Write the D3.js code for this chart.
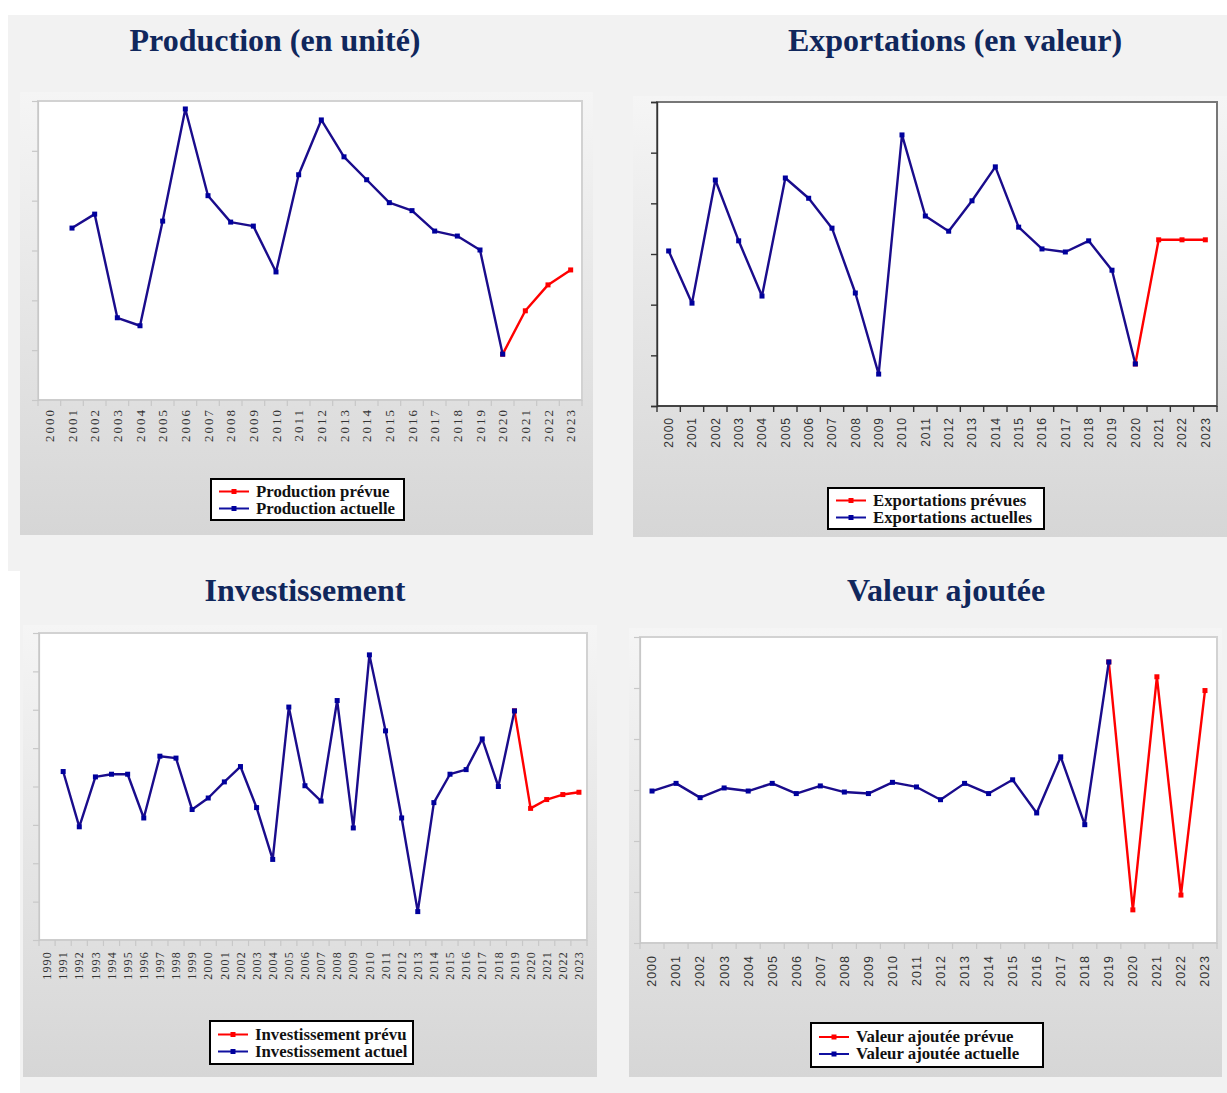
<!DOCTYPE html>
<meta charset="utf-8">
<style>
  body { margin: 0; background: #fff; }
  svg text { font-family: "Liberation Serif", "Times New Roman", serif; }
</style>
<body>
<div id="chart"></div>
<script src="https://d3js.org/d3.v7.min.js"></script>
<script>
// ---- data (arbitrary units, no axis labels in the source) ----
var years2000 = ["2000","2001","2002","2003","2004","2005","2006","2007","2008","2009","2010","2011",
                 "2012","2013","2014","2015","2016","2017","2018","2019","2020","2021","2022","2023"];
var years1990 = ["1990","1991","1992","1993","1994","1995","1996","1997","1998","1999",
                 "2000","2001","2002","2003","2004","2005","2006","2007","2008","2009","2010","2011",
                 "2012","2013","2014","2015","2016","2017","2018","2019","2020","2021","2022","2023"];

var prodActual   = [null,3.45,3.73,1.65,1.49,3.59,5.84,4.10,3.57,3.49,2.57,4.52,5.62,4.88,4.42,3.96,3.80,3.39,3.29,3.01,0.92,null,null,null];
var prodForecast = [null,null,null,null,null,null,null,null,null,null,null,null,null,null,null,null,null,null,null,null,0.92,1.79,2.31,2.61];

var expActual    = [3.06,2.03,4.46,3.26,2.17,4.50,4.10,3.51,2.23,0.63,5.35,3.75,3.45,4.05,4.72,3.53,3.10,3.04,3.26,2.68,0.83,null,null,null];
var expForecast  = [null,null,null,null,null,null,null,null,null,null,null,null,null,null,null,null,null,null,null,null,0.83,3.28,3.28,3.28];

var invActual    = [null,4.39,2.95,4.25,4.32,4.32,3.18,4.79,4.74,3.40,3.70,4.12,4.52,3.45,2.10,6.07,4.02,3.62,6.24,2.92,7.43,5.45,3.18,0.74,3.58,4.32,4.44,5.24,4.00,5.97,null,null,null,null];
var invForecast  = [null,null,null,null,null,null,null,null,null,null,null,null,null,null,null,null,null,null,null,null,null,null,null,null,null,null,null,null,null,5.97,3.43,3.66,3.79,3.85];

var vaActual     = [2.98,3.13,2.85,3.04,2.98,3.13,2.93,3.08,2.96,2.93,3.15,3.06,2.81,3.13,2.93,3.20,2.55,3.65,2.32,5.51,null,null,null,null];
var vaForecast   = [null,null,null,null,null,null,null,null,null,null,null,null,null,null,null,null,null,null,null,5.51,0.65,5.22,0.94,4.95];

var BLUE = "#1a0c8c", BLUE_MK = "#00009c", RED = "#ff0000";
var SERIF = "'Liberation Serif', 'Times New Roman', serif";
var SANS = "'Liberation Sans', Arial, sans-serif";

var svg = d3.select("#chart").append("svg")
  .attr("width", 1227).attr("height", 1093);

var defs = svg.append("defs");
var grad = defs.append("linearGradient").attr("id", "panelGrad")
  .attr("x1", 0).attr("y1", 0).attr("x2", 0).attr("y2", 1);
grad.append("stop").attr("offset", "0%").attr("stop-color", "#f5f5f5");
grad.append("stop").attr("offset", "100%").attr("stop-color", "#d6d6d6");

// page background
svg.append("rect").attr("x", 8).attr("y", 15).attr("width", 1219).attr("height", 556).attr("fill", "#f2f2f2");
svg.append("rect").attr("x", 20).attr("y", 570).attr("width", 1207).attr("height", 523).attr("fill", "#f2f2f2");

function drawPanel(cfg) {
  // title
  svg.append("text")
    .attr("x", cfg.titleX).attr("y", cfg.titleY)
    .attr("text-anchor", "middle")
    .style("font-size", "32px").style("font-weight", "bold")
    .style("fill", "#10275c")
    .text(cfg.title);

  // container
  svg.append("rect")
    .attr("x", cfg.box.x).attr("y", cfg.box.y)
    .attr("width", cfg.box.w).attr("height", cfg.box.h)
    .attr("fill", "url(#panelGrad)");

  var p = cfg.plot;
  svg.append("rect")
    .attr("x", p.l).attr("y", p.t)
    .attr("width", p.r - p.l).attr("height", p.b - p.t)
    .attr("fill", "#fff")
    .attr("stroke", cfg.borderColor).attr("stroke-width", 2);

  var x = d3.scaleBand().domain(cfg.cats).range([p.l, p.r]);
  var y = d3.scaleLinear().domain([0, cfg.yMax]).range([p.b, p.t]);

  // y axis: ticks only, no labels
  var yAxis = svg.append("g")
    .attr("transform", "translate(" + p.l + ",0)")
    .call(d3.axisLeft(y).ticks(cfg.yMax).tickSize(6).tickFormat(""));
  yAxis.selectAll("line, path").attr("stroke", cfg.axisColor).attr("stroke-width", cfg.axisWidth);

  // x axis: ticks at band boundaries, labels centred in bands
  var bounds = cfg.cats.map(function (c) { return x(c); }).concat([p.r]);
  var xg = svg.append("g");
  xg.append("line")
    .attr("x1", p.l).attr("x2", p.r).attr("y1", p.b).attr("y2", p.b)
    .attr("stroke", cfg.axisColor).attr("stroke-width", cfg.axisWidth);
  xg.selectAll(".tk").data(bounds).enter().append("line")
    .attr("x1", function (d) { return d; }).attr("x2", function (d) { return d; })
    .attr("y1", p.b).attr("y2", p.b + 6)
    .attr("stroke", cfg.axisColor).attr("stroke-width", cfg.axisWidth);
  var lf = cfg.labelFont;
  xg.selectAll(".lb").data(cfg.cats).enter().append("text")
    .attr("transform", function (d) {
      return "translate(" + (x(d) + x.bandwidth() / 2 + lf.size * 0.35) + "," + (p.b + lf.gap) + ") rotate(-90)";
    })
    .attr("text-anchor", "end")
    .style("font-family", lf.family)
    .style("font-size", lf.size + "px")
    .style("letter-spacing", lf.spacing + "px")
    .style("fill", "#333")
    .text(function (d) { return d; });

  var cx = function (i) { return x(cfg.cats[i]) + x.bandwidth() / 2; };

  function series(vals, col, mk) {
    var pts = vals.map(function (v, i) { return { i: i, v: v }; })
      .filter(function (d) { return d.v !== null; });
    var line = d3.line().x(function (d) { return cx(d.i); }).y(function (d) { return y(d.v); });
    svg.append("path").datum(pts)
      .attr("d", line).attr("fill", "none")
      .attr("stroke", col).attr("stroke-width", 2.4)
      .attr("stroke-linejoin", "round");
    svg.append("g").selectAll("rect").data(pts).enter().append("rect")
      .attr("x", function (d) { return cx(d.i) - 2.5; })
      .attr("y", function (d) { return y(d.v) - 2.5; })
      .attr("width", 5).attr("height", 5)
      .attr("fill", mk);
  }
  series(cfg.forecast, RED, RED);
  series(cfg.actual, BLUE, BLUE_MK);

  // legend
  var L = cfg.legend;
  var lg = svg.append("g").attr("transform", "translate(" + L.x + "," + L.y + ")");
  lg.append("rect").attr("width", L.w).attr("height", L.h)
    .attr("fill", "#fff").attr("stroke", "#000").attr("stroke-width", 2);
  var items = [{ t: cfg.labels[0], c: RED, m: RED }, { t: cfg.labels[1], c: "#1010a0", m: BLUE_MK }];
  items.forEach(function (it, k) {
    var yy = L.h / 2 - 8 + k * 17;
    lg.append("line").attr("x1", 8).attr("x2", 38).attr("y1", yy).attr("y2", yy)
      .attr("stroke", it.c).attr("stroke-width", 2);
    lg.append("rect").attr("x", 20.5).attr("y", yy - 2.5).attr("width", 5).attr("height", 5).attr("fill", it.m);
    lg.append("text").attr("x", 45).attr("y", yy + 5)
      .style("font-size", "16.8px").style("font-weight", "bold").style("fill", "#111")
      .text(it.t);
  });
}

drawPanel({
  title: "Production (en unité)", titleX: 275, titleY: 51,
  box: { x: 20, y: 92, w: 573, h: 443 },
  plot: { l: 38, t: 101, r: 582, b: 400 },
  cats: years2000, yMax: 6, actual: prodActual, forecast: prodForecast,
  borderColor: "#d2d2d2", axisColor: "#c8c8c8", axisWidth: 1.2,
  labelFont: { family: SERIF, size: 13, spacing: 2, gap: 8 },
  legend: { x: 211, y: 479, w: 193, h: 41 },
  labels: ["Production prévue", "Production actuelle"]
});

drawPanel({
  title: "Exportations (en valeur)", titleX: 955, titleY: 51,
  box: { x: 633, y: 96, w: 594, h: 441 },
  plot: { l: 657, t: 102, r: 1217, b: 406 },
  cats: years2000, yMax: 6, actual: expActual, forecast: expForecast,
  borderColor: "#777", axisColor: "#333", axisWidth: 1.4,
  labelFont: { family: SANS, size: 12, spacing: 1, gap: 11 },
  legend: { x: 828, y: 488, w: 216, h: 41 },
  labels: ["Exportations prévues", "Exportations actuelles"]
});

drawPanel({
  title: "Investissement", titleX: 305, titleY: 601,
  box: { x: 23, y: 625, w: 574, h: 452 },
  plot: { l: 39, t: 633, r: 587, b: 940 },
  cats: years1990, yMax: 8, actual: invActual, forecast: invForecast,
  borderColor: "#d2d2d2", axisColor: "#c8c8c8", axisWidth: 1.2,
  labelFont: { family: SERIF, size: 12, spacing: 1.2, gap: 11 },
  legend: { x: 210, y: 1021, w: 203, h: 43 },
  labels: ["Investissement prévu", "Investissement actuel"]
});

drawPanel({
  title: "Valeur ajoutée", titleX: 946, titleY: 601,
  box: { x: 629, y: 628, w: 593, h: 449 },
  plot: { l: 640, t: 637, r: 1217, b: 943 },
  cats: years2000, yMax: 6, actual: vaActual, forecast: vaForecast,
  borderColor: "#d2d2d2", axisColor: "#c8c8c8", axisWidth: 1.2,
  labelFont: { family: SANS, size: 12.5, spacing: 1, gap: 12 },
  legend: { x: 811, y: 1023, w: 232, h: 44 },
  labels: ["Valeur ajoutée prévue", "Valeur ajoutée actuelle"]
});
</script>
</body>
